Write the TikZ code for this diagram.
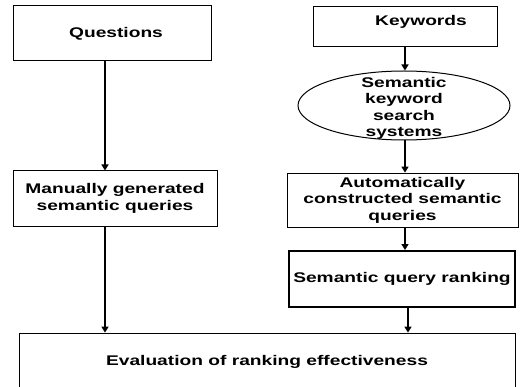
\documentclass[tikz,border=0pt]{standalone}
\usepackage{fontspec}
\setmainfont{Liberation Sans}[FakeStretch=1.37]
\usetikzlibrary{arrows.meta,shapes.geometric}
\begin{document}
\begin{tikzpicture}[x=1pt,y=-1pt,
  txt/.style={font=\fontsize{14}{16.5}\selectfont\bfseries, align=center},
  box/.style={draw, rectangle, inner sep=0pt, line width=1pt, txt},
  arr/.style={-{Triangle[length=6pt,width=7pt]}, line width=1.4pt}]
\useasboundingbox (0,0) rectangle (521,387);
\clip (0,0) rectangle (521,387);
\fill[white] (0,0) rectangle (521,387);
% left column
\node[box, minimum width=198pt, minimum height=55pt] (Q) at (112,33.5) {\hspace*{8pt}Questions};
\node[box, minimum width=204pt, minimum height=55pt] (M) at (115,198.5) {Manually generated\\semantic queries};
% right column
\node[box, minimum width=184pt, minimum height=40pt,
      label={[txt, xshift=16pt, yshift=5pt]center:Keywords}] (K) at (405,27) {};
\node[draw, ellipse, line width=1pt, minimum width=212pt, minimum height=69pt, inner sep=0pt,
      label={[txt, yshift=-3pt]center:Semantic\\keyword\\search\\systems}] (E) at (404,105.5) {};
\node[box, line width=0.8pt, minimum width=231pt, minimum height=54pt] (A) at (402.5,200) {Automatically\\constructed semantic\\queries};
\node[box, line width=2pt, minimum width=226pt, minimum height=56pt] (S) at (402,279) {Semantic query ranking};
% bottom
\node[box, line width=0.8pt, minimum width=496pt, minimum height=58pt] (V) at (267,362) {Evaluation of ranking effectiveness};
% connectors
\coordinate (lx) at (105,0);
\coordinate (cx) at (405,0);
\coordinate (rx) at (408,0);
\draw[arr] (Q.south -| lx) -- (M.north -| lx);
\draw[arr] (M.south -| lx) -- (V.north -| lx);
\draw[arr] (K.south -| cx) -- (E.north -| cx);
\draw[arr] (E.south -| cx) -- (A.north -| cx);
\draw[arr] (A.south -| cx) -- (S.north -| cx);
\draw[arr] (S.south -| rx) -- (V.north -| rx);
\end{tikzpicture}
\end{document}
